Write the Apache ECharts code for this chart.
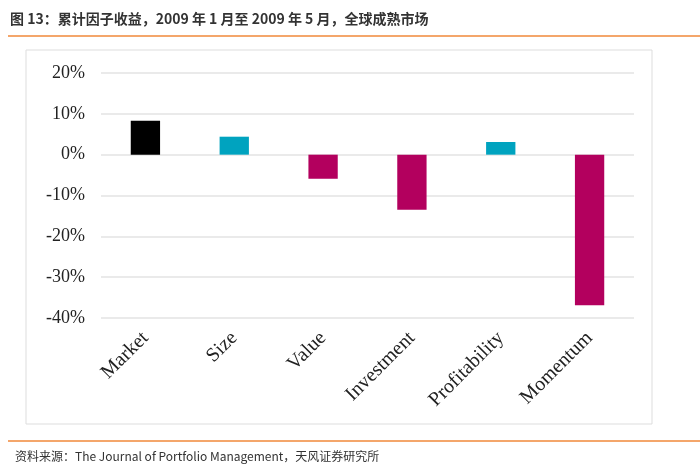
<!DOCTYPE html>
<html><head><meta charset="utf-8">
<script src="https://cdn.jsdelivr.net/npm/echarts@6/dist/echarts.min.js"></script>
<style>html,body{margin:0;padding:0;background:#fff}#c{width:700px;height:471px}</style>
</head><body><div id="c"></div>
<script>
const categories = ['Market','Size','Value','Investment','Profitability','Momentum'];
const values = [8.3, 4.4, -5.9, -13.5, 3.1, -36.9];
const barColors = ['#000000','#00A3BF','#B3005E','#B3005E','#00A3BF','#B3005E'];
const yTicks = {min: -40, max: 20, interval: 10};
const titleText = '图 13：累计因子收益，2009 年 1 月至 2009 年 5 月，全球成熟市场';
const sourceText = '资料来源：The Journal of Portfolio Management，天风证券研究所';

const chart = echarts.init(document.getElementById('c'));
chart.setOption({
  animation: false,
  backgroundColor: '#fff',
  graphic: [
    {type:'text', left: 10, top: 12, style:{text: titleText, font: 'bold 14px "Noto Sans CJK SC"', fill:'#333'}},
    {type:'line', shape:{x1:8,y1:36,x2:700,y2:36}, style:{stroke:'#F0893A', lineWidth:1.5}},
    {type:'rect', shape:{x:26,y:50,width:626,height:374}, style:{fill:'none', stroke:'#DDDDDD', lineWidth:1}},
    {type:'line', shape:{x1:8,y1:441,x2:700,y2:441}, style:{stroke:'#F0893A', lineWidth:1.5}},
    {type:'text', left: 15, top: 450, style:{text: sourceText, font: '12px "Noto Sans CJK SC"', fill:'#333'}}
  ],
  grid: {left: 101, right: 66, top: 73, bottom: 153},
  xAxis: {
    type: 'category', data: categories,
    axisLine: {show:false}, axisTick: {show:false},
    axisLabel: {rotate: 45, interval: 0, margin: 17, fontFamily: 'Liberation Serif', fontSize: 20, color: '#222'}
  },
  yAxis: {
    type: 'value', min: yTicks.min, max: yTicks.max, interval: yTicks.interval,
    axisLine:{show:false}, axisTick:{show:false},
    splitLine: {lineStyle:{color:'#E3E3E3', width: 1.5}},
    axisLabel: {formatter: '{value}%', fontFamily: 'Liberation Serif', fontSize: 18, color: '#222', margin: 16}
  },
  series: [{
    type: 'bar', barWidth: '33%',
    data: values.map((v,i)=>({value:v, itemStyle:{color: barColors[i]}}))
  }]
});
</script></body></html>
